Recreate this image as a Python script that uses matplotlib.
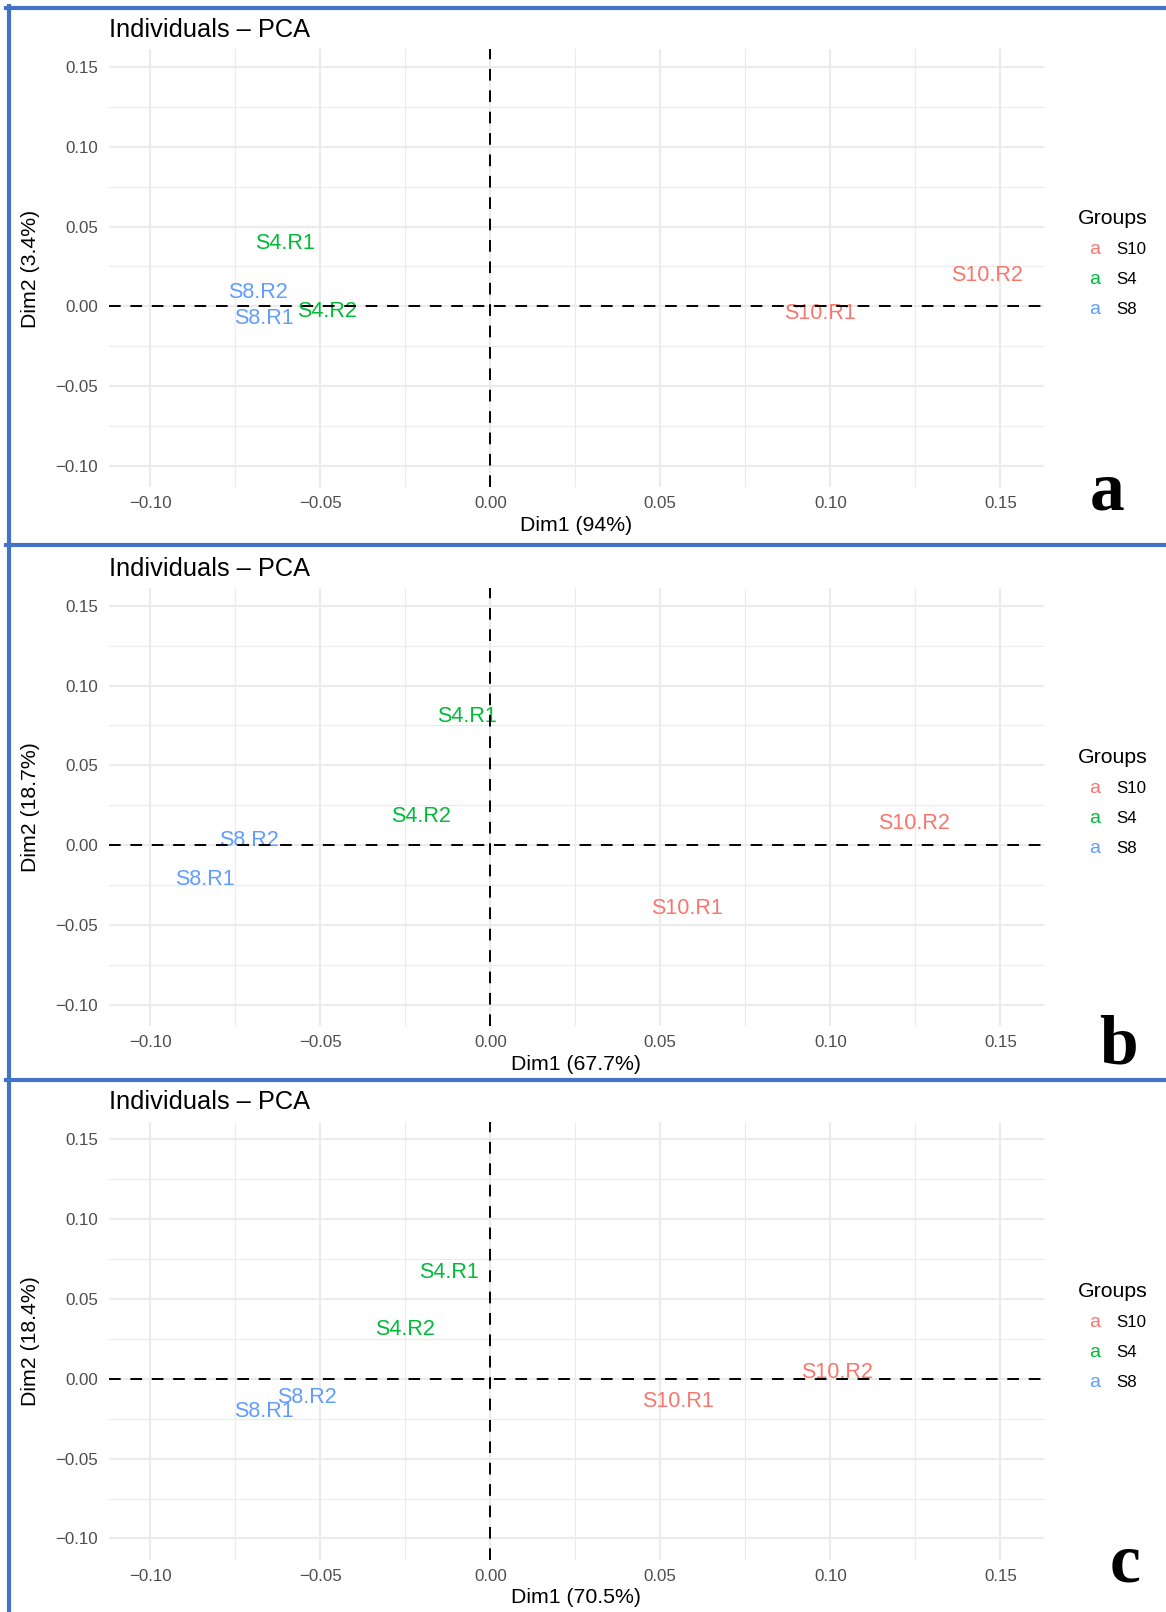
import matplotlib.pyplot as plt
from matplotlib.lines import Line2D
from matplotlib.transforms import offset_copy

plt.rcParams['font.family'] = ['Liberation Sans', 'DejaVu Sans']

# figure size in pixels (dpi 100)
W, H = 1166, 1612

# --- samples and groups ---
samples = ["S10.R1", "S10.R2", "S4.R1", "S4.R2", "S8.R1", "S8.R2"]
groups = ["S10", "S10", "S4", "S4", "S8", "S8"]
group_names = ["S10", "S4", "S8"]
group_colors = ["#F8766D", "#00BA38", "#619CFF"]

# --- PCA coordinates per panel ---
dim1_a = [0.0970, 0.1460, -0.0605, -0.0481, -0.0665, -0.0683]
dim2_a = [-0.0032, 0.0206, 0.0406, -0.0019, -0.0064, 0.0097]

dim1_b = [0.0577, 0.1245, -0.0070, -0.0203, -0.0840, -0.0710]
dim2_b = [-0.0387, 0.0148, 0.0818, 0.0193, -0.0200, 0.0039]

dim1_c = [0.0553, 0.1019, -0.0121, -0.0251, -0.0665, -0.0538]
dim2_c = [-0.0129, 0.0052, 0.0677, 0.0322, -0.0193, -0.0103]

# explained variance
var_dim1 = ["94%", "67.7%", "70.5%"]
var_dim2 = ["3.4%", "18.7%", "18.4%"]
panel_letters = ["a", "b", "c"]

major_ticks = [-0.10, -0.05, 0.00, 0.05, 0.10, 0.15]
tick_labels = ["\u22120.10", "\u22120.05", "0.00", "0.05", "0.10", "0.15"]
minor_ticks = [-0.075, -0.025, 0.025, 0.075, 0.125]

panels = [(dim1_a, dim2_a), (dim1_b, dim2_b), (dim1_c, dim2_c)]

# layout (pixels)
zero_rows = [306.4, 845.2, 1378.8]
letter_pos = [(1090, 509), (1099, 1063), (1110, 1581)]
plot_left, plot_right = 109, 1043.6
xlim = (-0.1121, 0.1627)
ylim = (-0.1134, 0.161)

fig = plt.figure(figsize=(W / 100, H / 100), dpi=100)


def fx(px):
    return px / W


def fy(py):
    return 1 - py / H


grid_col = "#EBEBEB"
for i, (d1, d2) in enumerate(panels):
    z = zero_rows[i]
    top, bottom = z - 257, z + 181
    ax = fig.add_axes([fx(plot_left), fy(bottom),
                       (plot_right - plot_left) / W, (bottom - top) / H])
    ax.set_xlim(*xlim)
    ax.set_ylim(*ylim)
    for s in ax.spines.values():
        s.set_visible(False)
    ax.set_xticks(major_ticks)
    ax.set_xticklabels(tick_labels)
    ax.set_yticks(major_ticks)
    ax.set_yticklabels(tick_labels)
    ax.tick_params(axis='x', length=0, labelsize=12.2, colors='#4D4D4D', pad=6.3)
    ax.tick_params(axis='y', length=0, labelsize=12.2, colors='#4D4D4D', pad=8)

    for t in minor_ticks:
        ax.axvline(t, color=grid_col, lw=0.8, zorder=0)
        ax.axhline(t, color=grid_col, lw=0.8, zorder=0)
    for t in major_ticks:
        ax.axvline(t, color=grid_col, lw=1.5, zorder=0)
        ax.axhline(t, color=grid_col, lw=1.5, zorder=0)

    # sample labels, centred on the coordinates
    label_tr = offset_copy(ax.transData, fig=fig, x=0, y=-2, units='dots')
    for name, x, y, g in zip(samples, d1, d2, groups):
        ax.text(x, y, name, color=group_colors[group_names.index(g)],
                fontsize=15.5, ha='center', va='center', zorder=2,
                transform=label_tr)

    ax.axhline(0, color='black', lw=1.4, dashes=(6, 5), zorder=3)
    ax.axvline(0, color='black', lw=1.4, dashes=(6, 5), zorder=3)

    # titles and axis labels
    fig.text(fx(plot_left), fy(z - 269.4), "Individuals \u2013 PCA",
             fontsize=18.3, ha='left', va='baseline')
    fig.text(fx((plot_left + plot_right) / 2), fy(z + 219),
             "Dim1 (" + var_dim1[i] + ")", fontsize=15.3, ha='center', va='center')
    fig.text(fx(30.8), fy(z - 38), "Dim2 (" + var_dim2[i] + ")",
             fontsize=15.3, ha='center', va='center', rotation=90)

    # legend
    fig.text(fx(1078), fy(z - 87.4), "Groups", fontsize=15.3, ha='left', va='center')
    for k, (gname, gcol) in enumerate(zip(group_names, group_colors)):
        yk = z - 56.6 + 30 * k
        fig.text(fx(1094.6), fy(yk), "a", color=gcol, fontsize=14,
                 ha='center', va='center')
        fig.text(fx(1116), fy(yk), gname, fontsize=12.2, ha='left', va='center')

    # panel letter
    lx, ly = letter_pos[i]
    fig.text(fx(lx), fy(ly), panel_letters[i], fontsize=50, fontweight='bold',
             family='Liberation Serif', ha='left', va='baseline')

# blue frame lines
blue = "#4472C4"
for yb in [8, 545.3, 1080.3]:
    fig.add_artist(Line2D([fx(6), 1], [fy(yb), fy(yb)], color=blue, lw=3,
                          transform=fig.transFigure))
fig.add_artist(Line2D([fx(8.5), fx(8.5)], [fy(6), 0], color=blue, lw=3,
                      transform=fig.transFigure))

fig.savefig("out.png", dpi=100, facecolor='white')
